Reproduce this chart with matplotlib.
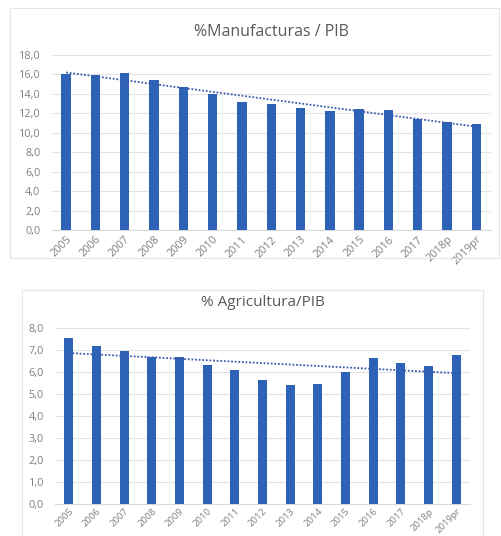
import numpy as np
import matplotlib
matplotlib.use("Agg")
import matplotlib.pyplot as plt
from matplotlib.patches import Rectangle
from matplotlib.ticker import FuncFormatter

years = ["2005", "2006", "2007", "2008", "2009", "2010", "2011", "2012",
         "2013", "2014", "2015", "2016", "2017", "2018p", "2019pr"]
manuf = [16.0, 15.9, 16.1, 15.4, 14.7, 14.0, 13.2, 13.0, 12.6, 12.2, 12.4, 12.3, 11.4, 11.1, 10.9]
agri = [7.55, 7.2, 6.94, 6.68, 6.68, 6.33, 6.1, 5.62, 5.41, 5.47, 5.98, 6.64, 6.41, 6.29, 6.76]

title_top = "%Manufacturas / PIB"
title_bot = "% Agricultura/PIB"

W, H = 501, 536
BAR = "#2E62B6"
GRID = "#E3E3E3"
TXT = "#808080"
TTL = "#595959"

plt.rcParams['font.family'] = ['Open Sans', 'DejaVu Sans']
fig = plt.figure(figsize=(W / 100, H / 100), dpi=100)
fig.patch.set_facecolor("white")


def px_axes(left, top, right, bottom):
    return fig.add_axes([left / W, 1 - bottom / H, (right - left) / W, (bottom - top) / H])


# chart frames
fig.add_artist(Rectangle((10 / W, 1 - 258 / H), (499 - 10) / W, (258 - 8) / H,
                         transform=fig.transFigure, fill=False, edgecolor="#E6E6E6", lw=0.8))
fig.add_artist(Rectangle((22 / W, 1 - 540 / H), (483 - 22) / W, (540 - 290) / H,
                         transform=fig.transFigure, fill=False, edgecolor="#E6E6E6", lw=0.8))


def draw(ax, vals, ymax, step, title, title_y, title_size, xsize, xpad):
    x = np.arange(len(vals))
    ax.bar(x, vals, width=0.32, color=BAR, zorder=3)
    k, b = np.polyfit(x, vals, 1)
    ax.plot(x, k * x + b, linestyle=(0, (1, 1)), color="#3A5BB0", lw=1.3, zorder=4)
    ax.set_xlim(-0.5, len(vals) - 0.5)
    ax.set_ylim(0, ymax)
    ax.set_yticks(np.arange(0, ymax + step / 2, step))
    ax.yaxis.set_major_formatter(FuncFormatter(lambda v, p: f"{v:.1f}".replace(".", ",")))
    ax.grid(axis="y", color=GRID, lw=0.8, zorder=0)
    ax.set_axisbelow(True)
    for s in ["top", "right", "left"]:
        ax.spines[s].set_visible(False)
    ax.spines["bottom"].set_color("#D9D9D9")
    ax.tick_params(axis="y", length=0, colors=TXT, labelsize=7.8, pad=8)
    ax.tick_params(axis="x", length=0, colors=TXT, labelsize=xsize, pad=xpad)
    ax.set_xticks(x)
    ax.set_xticklabels(years, rotation=45, ha="right", rotation_mode="anchor")
    fig.text(0.5 * (ax.get_position().x0 + ax.get_position().x1), 1 - title_y / H, title,
             ha="center", va="center", fontsize=title_size, color=TTL)


ax1 = px_axes(51.5, 55, 491, 230)
draw(ax1, manuf, 18, 2, title_top, 32, 11.5, 7.8, 3)

ax2 = px_axes(55, 328, 470, 504)
draw(ax2, agri, 8, 1, title_bot, 302, 11, 6.8, 2)

fig.savefig("out.png", dpi=100)
